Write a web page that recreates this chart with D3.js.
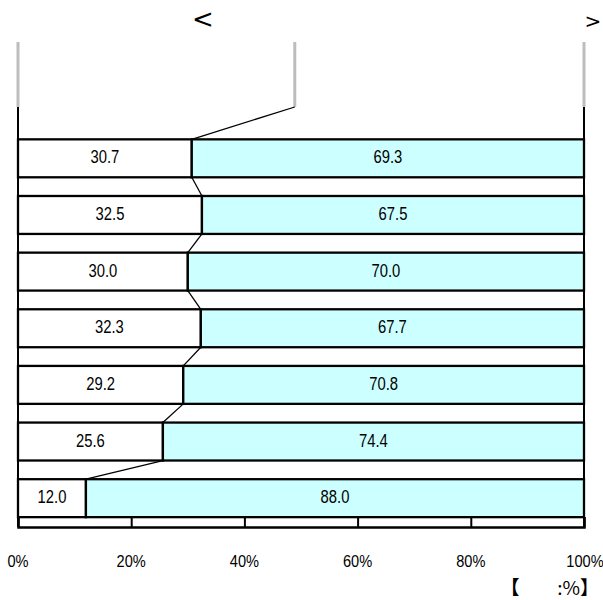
<!DOCTYPE html>
<html>
<head>
<meta charset="utf-8">
<script src="https://cdn.jsdelivr.net/npm/d3@7"></script>
<style>
  html, body { margin: 0; padding: 0; background: #fff; }
  svg { display: block; }
</style>
</head>
<body>
<svg id="chart" width="603" height="600"></svg>
<script>
// ---- data ----
const categories = ["r1", "r2", "r3", "r4", "r5", "r6", "r7"];
const leftValues = [30.7, 32.5, 30.0, 32.3, 29.2, 25.6, 12.0];
const rightValues = [69.3, 67.5, 70.0, 67.7, 70.8, 74.4, 88.0];
const headerSplit = 48.9;
const tickValues = [0, 20, 40, 60, 80, 100];
const tickLabels = ["0%", "20%", "40%", "60%", "80%", "100%"];
const headerLeftText = "<";
const headerRightText = ">";
const unitOpen = "【";
const unitClose = ":%】";

// ---- layout ----
const svg = d3.select("#chart");
const x = d3.scaleLinear().domain([0, 100]).range([18, 584]);
const y = d3.scaleBand().domain(categories).range([130, 526.5])
  .paddingInner(0.33).paddingOuter(0.165);
const plotTop = 107, plotBottom = 527, headerTop = 42;

const font = "'Liberation Sans', Arial, sans-serif";

// header gray lines
[0, headerSplit, 100].forEach(v => {
  svg.append("line")
    .attr("x1", x(v)).attr("x2", x(v))
    .attr("y1", headerTop).attr("y2", plotTop)
    .attr("stroke", "#bdbdbd").attr("stroke-width", 3);
});

// header text
svg.append("text").attr("x", 203).attr("y", 28)
  .attr("text-anchor", "middle").attr("font-family", "'DejaVu Sans', sans-serif")
  .attr("font-size", 26).text(headerLeftText);
svg.append("text").attr("x", 593).attr("y", 28)
  .attr("text-anchor", "middle").attr("font-family", "'DejaVu Sans', sans-serif")
  .attr("font-size", 20).text(headerRightText);

// series lines
const seriesPts = [[x(headerSplit), plotTop, x(leftValues[0]), y(categories[0])]];
for (let i = 0; i < categories.length - 1; i++) {
  seriesPts.push([x(leftValues[i]), y(categories[i]) + y.bandwidth(),
                  x(leftValues[i + 1]), y(categories[i + 1])]);
}
svg.selectAll("line.series").data(seriesPts).join("line")
  .attr("class", "series")
  .attr("x1", d => d[0]).attr("y1", d => d[1])
  .attr("x2", d => d[2]).attr("y2", d => d[3])
  .attr("stroke", "#000").attr("stroke-width", 1.3);

// bars
const rows = categories.map((c, i) => ({ c, l: leftValues[i], r: rightValues[i] }));
const g = svg.append("g");
g.selectAll("rect.left").data(rows).join("rect")
  .attr("x", d => x(0)).attr("y", d => y(d.c))
  .attr("width", d => x(d.l) - x(0)).attr("height", y.bandwidth())
  .attr("fill", "#ffffff").attr("stroke", "#000").attr("stroke-width", 2.3);
g.selectAll("rect.right").data(rows).join("rect")
  .attr("x", d => x(d.l)).attr("y", d => y(d.c))
  .attr("width", d => x(d.l + d.r) - x(d.l)).attr("height", y.bandwidth())
  .attr("fill", "#ccffff").attr("stroke", "#000").attr("stroke-width", 2.3);

// value labels
const labelY = d => y(d.c) + y.bandwidth() / 2 + 5;
g.selectAll("text.lv").data(rows).join("text")
  .attr("transform", d => `translate(${(x(0) + x(d.l)) / 2},${labelY(d)}) scale(0.8,1)`)
  .attr("text-anchor", "middle").attr("font-family", font).attr("font-size", 18.5)
  .text(d => d.l.toFixed(1));
g.selectAll("text.rv").data(rows).join("text")
  .attr("transform", d => `translate(${(x(d.l) + x(d.l + d.r)) / 2},${labelY(d)}) scale(0.8,1)`)
  .attr("text-anchor", "middle").attr("font-family", font).attr("font-size", 18.5)
  .text(d => d.r.toFixed(1));

// frame: left axis, right edge, bottom axis
svg.append("line").attr("x1", x(0)).attr("x2", x(0)).attr("y1", plotTop).attr("y2", plotBottom)
  .attr("stroke", "#000").attr("stroke-width", 2);
svg.append("line").attr("x1", x(100)).attr("x2", x(100)).attr("y1", plotTop).attr("y2", plotBottom)
  .attr("stroke", "#000").attr("stroke-width", 2);

const axis = d3.axisBottom(x).tickValues(tickValues)
  .tickSize(-10).tickPadding(0).tickFormat((d, i) => "");
const ag = svg.append("g").attr("transform", `translate(0,${plotBottom})`).call(axis);
ag.select(".domain").attr("stroke", "#000").attr("stroke-width", 2.5);
ag.selectAll(".tick line").attr("stroke", "#000").attr("stroke-width", 2);

// tick labels
svg.selectAll("text.tl").data(tickValues).join("text")
  .attr("transform", d => `translate(${d === 100 ? x(d) + 1 : x(d)},567) scale(0.86,1)`)
  .attr("text-anchor", "middle").attr("font-family", font).attr("font-size", 17)
  .text((d, i) => tickLabels[i]);

// unit label
svg.append("text").attr("x", 510).attr("y", 595).attr("text-anchor", "middle")
  .attr("font-family", "'Noto Sans CJK JP', sans-serif").attr("font-size", 19)
  .attr("font-weight", "bold").text(unitOpen);
svg.append("text").attr("x", 599).attr("y", 595).attr("text-anchor", "end")
  .attr("font-family", "'Noto Sans CJK JP', sans-serif").attr("font-size", 19)
  .text(unitClose);
</script>
</body>
</html>
